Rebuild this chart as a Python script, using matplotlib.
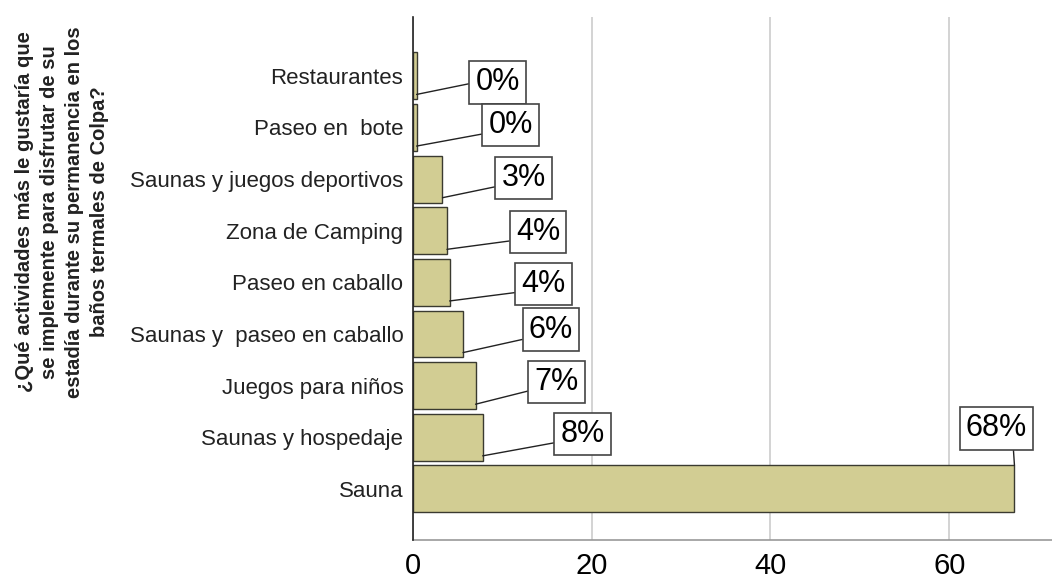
import matplotlib
matplotlib.use("Agg")
import matplotlib.pyplot as plt

categories = [
    "Restaurantes",
    "Paseo en  bote",
    "Saunas y juegos deportivos",
    "Zona de Camping",
    "Paseo en caballo",
    "Saunas y  paseo en caballo",
    "Juegos para niños",
    "Saunas y hospedaje",
    "Sauna",
]
values = [0.4, 0.4, 3.3, 3.8, 4.1, 5.6, 7.0, 7.8, 67.3]
pct_labels = ["0%", "0%", "3%", "4%", "4%", "6%", "7%", "8%", "68%"]
x_ticks = [0, 20, 40, 60]
y_label = ("¿Qué actividades más le gustaría que\n"
           "se implemente para disfrutar de su\n"
           "estadía durante su permanencia en los\n"
           "baños termales de Colpa?")

# label box placement (pixel offsets from leader anchor) and leader attach points
label_dx = [81, 94, 81, 91, 94, 88, 81, 100, -18]
label_dy = [12, 21, 20, 17, 17, 23, 22, 22, 37]
label_relpos = [(0, 0.5), (0, 0.24), (0, 0.24), (0, 0.24), (0, 0.24),
                (0, 0.22), (0, 0.26), (0, 0.24), (0.77, 0)]

plt.rcParams['font.family'] = ['Liberation Sans', 'DejaVu Sans']

fig = plt.figure(figsize=(10.52, 5.81), dpi=100)
ax = fig.add_axes([413 / 1052, 1 - 540 / 581, 1 - 413 / 1052, (540 - 17) / 581])

n = len(categories)
pos = [n - 1 - i for i in range(n)]
ax.barh(pos, values, height=0.91, color="#D2CD93", edgecolor="#3a3a30",
        linewidth=1.0, zorder=3)

ax.set_xlim(0, 71.5)
ax.set_ylim(-0.99, n - 1 + 1.14)
ax.set_yticks(pos)
ax.set_yticklabels(categories, fontsize=16, color="#222222")
ax.set_xticks(x_ticks)
ax.set_xticklabels([str(t) for t in x_ticks], fontsize=21)
ax.tick_params(axis='y', length=0, pad=7)
ax.tick_params(axis='x', length=0, pad=9)

ax.grid(axis='x', color="#cccccc", linewidth=1.2, zorder=0)
ax.set_axisbelow(True)
for s in ["top", "right"]:
    ax.spines[s].set_visible(False)
ax.spines["left"].set_color("#222222")
ax.spines["left"].set_linewidth(1.2)
ax.spines["left"].set_zorder(4)
ax.spines["bottom"].set_color("#999999")
ax.spines["bottom"].set_linewidth(1.2)

for i, (p, v) in enumerate(zip(pos, values)):
    if i == n - 1:
        xy = (v, p + 0.455)
    else:
        xy = (v, p - 0.36)
    ax.annotate(pct_labels[i], xy=xy, xytext=(label_dx[i], label_dy[i]),
                textcoords="offset pixels", ha="center", va="center",
                fontsize=22, color="black",
                bbox=dict(boxstyle="square,pad=0.2", fc="white", ec="#444444", lw=1.2),
                arrowprops=dict(arrowstyle="-", color="#222222", lw=1.0,
                                relpos=label_relpos[i], shrinkA=0, shrinkB=0),
                zorder=5, annotation_clip=False)

fig.text(62 / 1052, 1 - 212 / 581, y_label, rotation=90, ha="center", va="center",
         fontsize=14.5, fontweight="bold", multialignment="center", linespacing=1.42,
         color="#222222")

fig.savefig("out.png", dpi=100)
